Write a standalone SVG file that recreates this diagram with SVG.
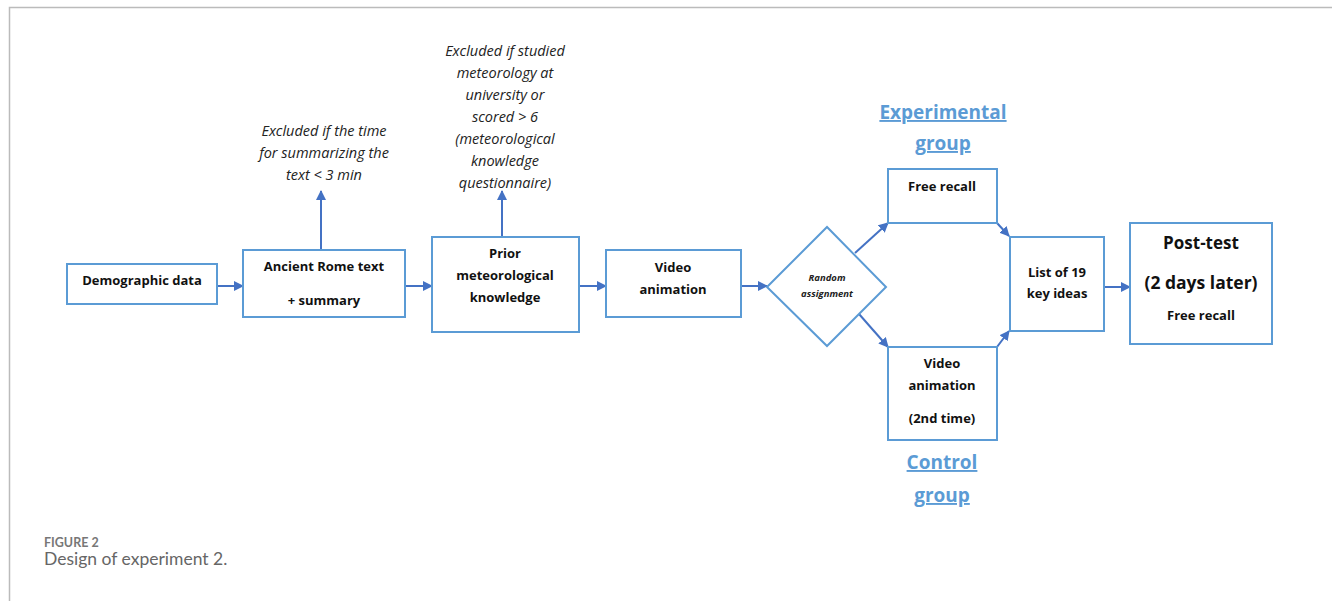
<svg xmlns="http://www.w3.org/2000/svg" width="1333" height="601" viewBox="0 0 1333 601">
<style>
.box{fill:#fff;stroke:#5b9bd5;stroke-width:2}
.t{font-family:"Open Sans","Liberation Sans",sans-serif;font-weight:bold;font-size:13px;fill:#111;text-anchor:middle}
.n{font-family:"Open Sans","Liberation Sans",sans-serif;font-style:italic;font-size:14.5px;fill:#222;text-anchor:middle}
.g{font-family:"Open Sans","Liberation Sans",sans-serif;font-weight:bold;font-size:19px;fill:#5b9bd5;text-anchor:middle;text-decoration:underline}
.c{stroke:#4472c4;stroke-width:2;fill:none;marker-end:url(#ah)}
</style>
<defs>
<marker id="ah" viewBox="0 0 10 10" refX="9" refY="5" markerWidth="5" markerHeight="5" orient="auto" markerUnits="strokeWidth">
<path d="M0,0 L10,5 L0,10 z" fill="#4472c4"/>
</marker>
</defs>
<rect width="1333" height="601" fill="#fff"/>
<path d="M9.5,601 V7.5 H1332" fill="none" stroke="#bbb" stroke-width="1.5"/>

<g id="connectors">
<line class="c" x1="217" y1="286" x2="243" y2="286"/>
<line class="c" x1="405" y1="286" x2="432" y2="286"/>
<line class="c" x1="579" y1="286" x2="606" y2="286"/>
<line class="c" x1="741" y1="286" x2="767" y2="286"/>
<line class="c" x1="321" y1="250" x2="321" y2="191"/>
<line class="c" x1="502" y1="237" x2="502" y2="191"/>
<line class="c" x1="855" y1="253" x2="888" y2="223"/>
<line class="c" x1="859" y1="314" x2="888" y2="347"/>
<line class="c" x1="997" y1="223" x2="1009" y2="236"/>
<line class="c" x1="997" y1="347" x2="1009" y2="331"/>
<line class="c" x1="1104" y1="287" x2="1130" y2="287"/>
</g>

<g id="demographic">
<rect class="box" x="67" y="264" width="150" height="40"/>
<text class="t" x="142" y="280" dy="5">Demographic data</text>
</g>

<g id="ancient-rome">
<rect class="box" x="243" y="250" width="162" height="67"/>
<text class="t" x="324" y="266" dy="5">Ancient Rome text</text>
<text class="t" x="324" y="300" dy="5">+ summary</text>
</g>

<g id="note-summary">
<text class="n" x="324" y="131" dy="5">Excluded if the time</text>
<text class="n" x="324" y="153" dy="5">for summarizing the</text>
<text class="n" x="324" y="175" dy="5">text &lt; 3 min</text>
</g>

<g id="prior">
<rect class="box" x="432" y="237" width="147" height="95"/>
<text class="t" x="505" y="253" dy="5">Prior</text>
<text class="t" x="505" y="275" dy="5">meteorological</text>
<text class="t" x="505" y="297" dy="5">knowledge</text>
</g>

<g id="note-prior">
<text class="n" x="505" y="51" dy="5">Excluded if studied</text>
<text class="n" x="505" y="73" dy="5">meteorology at</text>
<text class="n" x="505" y="95" dy="5">university or</text>
<text class="n" x="505" y="117" dy="5">scored &gt; 6</text>
<text class="n" x="505" y="139" dy="5">(meteorological</text>
<text class="n" x="505" y="161" dy="5">knowledge</text>
<text class="n" x="505" y="183" dy="5">questionnaire)</text>
</g>

<g id="video">
<rect class="box" x="606" y="250" width="135" height="67"/>
<text class="t" x="673" y="267" dy="5">Video</text>
<text class="t" x="673" y="289" dy="5">animation</text>
</g>

<g id="random">
<polygon points="767,287 827,227 886,287 827,346" fill="#fff" stroke="#5b9bd5" stroke-width="2"/>
<text x="827" y="277" dy="3.5" style="font-family:'Open Sans','Liberation Sans',sans-serif;font-style:italic;font-weight:bold;font-size:9.5px;fill:#222;text-anchor:middle">Random</text>
<text x="827" y="293" dy="3.5" style="font-family:'Open Sans','Liberation Sans',sans-serif;font-style:italic;font-weight:bold;font-size:9.5px;fill:#222;text-anchor:middle">assignment</text>
</g>

<g id="exp-label">
<text class="g" x="943" y="112" dy="7">Experimental</text>
<text class="g" x="943" y="143" dy="7">group</text>
</g>

<g id="free-recall">
<rect class="box" x="888" y="169" width="109" height="54"/>
<text class="t" x="942" y="186" dy="5">Free recall</text>
</g>

<g id="video2">
<rect class="box" x="888" y="347" width="109" height="93"/>
<text class="t" x="942" y="363" dy="5">Video</text>
<text class="t" x="942" y="385" dy="5">animation</text>
<text class="t" x="942" y="418" dy="5">(2nd time)</text>
</g>

<g id="ctrl-label">
<text class="g" x="942" y="462" dy="7">Control</text>
<text class="g" x="942" y="495" dy="7">group</text>
</g>

<g id="key-ideas">
<rect class="box" x="1010" y="237" width="94" height="94"/>
<text class="t" x="1057" y="272" dy="5">List of 19</text>
<text class="t" x="1057" y="293" dy="5">key ideas</text>
</g>

<g id="post-test">
<rect class="box" x="1130" y="223" width="142" height="121"/>
<text class="t" x="1201" y="243" dy="6" style="font-size:17px">Post-test</text>
<text class="t" x="1201" y="282" dy="6.5" style="font-size:17.5px">(2 days later)</text>
<text class="t" x="1201" y="315" dy="5">Free recall</text>
</g>

<g id="caption">
<text x="44" y="547" style="font-family:Lato,'Open Sans',sans-serif;font-weight:bold;font-size:12.5px;fill:#777">FIGURE 2</text>
<text x="44" y="565" style="font-family:Lato,'Open Sans',sans-serif;font-size:17.5px;fill:#666">Design of experiment 2.</text>
</g>
</svg>
